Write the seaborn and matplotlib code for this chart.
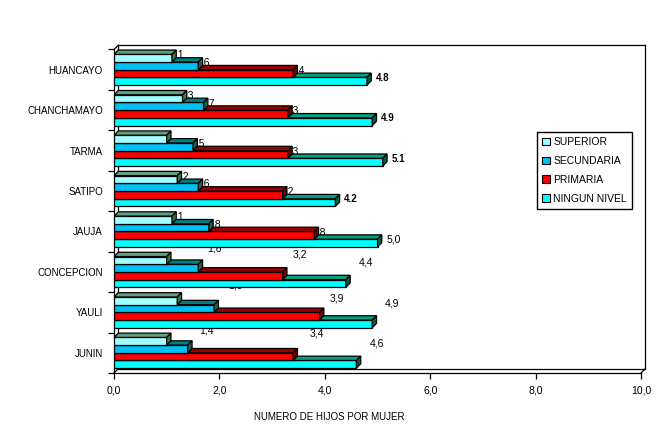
import numpy as np
import pandas as pd
import seaborn as sns
import matplotlib.pyplot as plt
from matplotlib.patches import Polygon, Patch

plt.rcParams['font.family'] = ['Liberation Sans', 'DejaVu Sans']

provincias = ['HUANCAYO', 'CHANCHAMAYO', 'TARMA', 'SATIPO', 'JAUJA',
              'CONCEPCION', 'YAULI', 'JUNIN']
niveles = ['SUPERIOR', 'SECUNDARIA', 'PRIMARIA', 'NINGUN NIVEL']

superior = [1.1, 1.3, 1.0, 1.2, 1.1, 1.0, 1.2, 1.0]
secundaria = [1.6, 1.7, 1.5, 1.6, 1.8, 1.6, 1.9, 1.4]
primaria = [3.4, 3.3, 3.3, 3.2, 3.8, 3.2, 3.9, 3.4]
ninguno = [4.8, 4.9, 5.1, 4.2, 5.0, 4.4, 4.9, 4.6]
valores = [superior, secundaria, primaria, ninguno]

color_frente = ['#a0ffff', '#00bff2', '#ff0000', '#00ffff']
color_arriba = ['#609f80', '#008080', '#990000', '#00a080']
color_lado = ['#3f6f4f', '#1f5f4f', '#700000', '#006040']

# labels that the original draws away from their bars (province, level, x, y)
sueltas = [(5, 1, 1.90, 4.41), (5, 2, 3.53, 4.56), (5, 3, 4.78, 4.77),
           (6, 1, 2.31, 5.33), (6, 2, 4.23, 5.66), (6, 3, 5.27, 5.77),
           (7, 1, 1.76, 6.46), (7, 2, 3.84, 6.52), (7, 3, 4.99, 6.77)]

df = pd.DataFrame({
    'provincia': np.tile(provincias, len(niveles)),
    'nivel': np.repeat(niveles, len(provincias)),
    'hijos': superior + secundaria + primaria + ninguno,
})

W, H = 669, 446
fig = plt.figure(figsize=(W / 100, H / 100), dpi=100)
ax = fig.add_axes([114 / W, 1 - 373 / H, 527 / W, 323.5 / H])

sns.barplot(data=df, x='hijos', y='provincia', hue='nivel', orient='h',
            width=0.76, palette=dict(zip(niveles, color_frente)),
            saturation=1, edgecolor='black', linewidth=0.9,
            errorbar=None, legend=False, ax=ax)

ax.set_xlim(0, 10)
ax.set_ylim(7.5, -0.5)

# 3d depth in pixels -> data units
prof = 4.3
dx = prof / (527 / 10)
dy = prof / (323.5 / 8)

for k, cont in enumerate(ax.containers):
    z = 20 - k
    for p in cont.patches:
        p.set_zorder(z)
        x0, y0, w, h = p.get_x(), p.get_y(), p.get_width(), p.get_height()
        arriba = Polygon([(x0, y0), (x0 + dx, y0 - dy), (x0 + w + dx, y0 - dy), (x0 + w, y0)],
                         closed=True, fc=color_arriba[k], ec='black', lw=0.9, zorder=z)
        lado = Polygon([(x0 + w, y0), (x0 + w + dx, y0 - dy), (x0 + w + dx, y0 + h - dy), (x0 + w, y0 + h)],
                       closed=True, fc=color_lado[k], ec='black', lw=0.9, zorder=z)
        ax.add_patch(arriba)
        ax.add_patch(lado)


def fmt(v, sep=','):
    return f'{v:.1f}'.replace('.', sep)


# value labels, drawn behind the bars as in the original
for k, cont in enumerate(ax.containers):
    for i, p in enumerate(cont.patches):
        if i > 4:
            continue
        yc = p.get_y() + p.get_height() / 2 - 0.08
        v = valores[k][i]
        if k < 3:
            if k == 0 and i == 2:
                continue
            ax.text(v + 0.08, yc, fmt(v), ha='center', va='center',
                    fontsize=7.5, zorder=5)
        else:
            negrita = i < 4
            ax.text(v + 0.17, yc, fmt(v, '.' if negrita else ','), ha='left', va='center',
                    fontsize=7 if negrita else 7.5,
                    fontweight='bold' if negrita else 'normal', zorder=5)

for i, k, x, y in sueltas:
    ax.text(x, y, fmt(valores[k][i]), ha='center', va='center', fontsize=7.5, zorder=5)

# back wall of the 3d box
dxa, dya = prof / 527, prof / 323.5
lineas = [([dxa, 1 + dxa], [1 + dya, 1 + dya]),
          ([1 + dxa, 1 + dxa], [dya, 1 + dya]),
          ([dxa, 1 + dxa], [dya, dya]),
          ([dxa, dxa], [dya, 1 + dya]),
          ([0, dxa], [0, dya]),
          ([1, 1 + dxa], [0, dya]),
          ([0, dxa], [1, 1 + dya])]
for xs, ys in lineas:
    ax.plot(xs, ys, color='black', lw=0.9, transform=ax.transAxes,
            clip_on=False, zorder=1)

sns.despine(ax=ax)
for s in ['left', 'bottom']:
    ax.spines[s].set_color('black')
    ax.spines[s].set_linewidth(0.9)

ax.set_yticks(range(len(provincias)))
ax.set_yticklabels(provincias, fontsize=7)
ax.set_yticks(np.arange(-0.5, len(provincias), 1), minor=True)
ax.tick_params(axis='y', which='major', length=0, pad=8)
ax.tick_params(axis='y', which='minor', length=4, width=0.9, color='black')

ticks_x = [0, 2, 4, 6, 8, 10]
ax.set_xticks(ticks_x)
ax.set_xticklabels([fmt(t) for t in ticks_x], fontsize=7.5)
ax.tick_params(axis='x', length=4, width=0.9, pad=5, color='black')

ax.set_ylabel('')
ax.set_xlabel('NUMERO DE HIJOS POR MUJER', fontsize=7)
ax.xaxis.set_label_coords((329 - 114) / 527, -(412 - 373) / 323.5)

manijas = [Patch(facecolor=c, edgecolor='black', lw=0.8) for c in color_frente]
fig.legend(handles=manijas, labels=niveles, loc='upper left',
           bbox_to_anchor=(537 / W, 1 - 132 / H), borderaxespad=0,
           fontsize=7.5, handlelength=0.75, handleheight=0.75,
           handletextpad=0.3, labelspacing=0.85, borderpad=0.5,
           fancybox=False, framealpha=1, edgecolor='black')

fig.savefig('out.png', dpi=100, facecolor='white')
